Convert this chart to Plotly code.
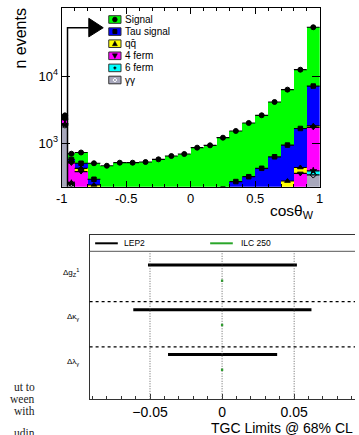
import numpy as np
import plotly.graph_objects as go

W, H = 359, 435

# ---------------- top chart: cos(theta_W) stacked histogram ----------------
bin_edges = [-1.0, -0.95, -0.9, -0.8, -0.7, -0.6, -0.5, -0.4, -0.3, -0.2, -0.1,
             0.0, 0.1, 0.2, 0.3, 0.4, 0.5, 0.6, 0.7, 0.8, 0.9, 1.0]
gamgam     = [1870, 250, 150, 80, 50, 40, 35, 30, 30, 28, 28, 28, 28, 28, 28, 30, 32, 35, 40, 60, 340]
six_ferm   = [20, 5, 5, 3, 2, 2, 2, 2, 2, 2, 2, 2, 3, 3, 3, 3, 3, 4, 5, 8, 50]
four_ferm  = [380, 255, 225, 100, 50, 40, 35, 35, 35, 35, 38, 40, 42, 45, 48, 52, 60, 75, 105, 289, 1336]
qqbar      = [60, 25, 45, 57, 40, 35, 30, 30, 30, 30, 32, 35, 38, 42, 48, 55, 65, 85, 125, 80, 94]
tau_signal = [120, 40, 80, 52, 50, 45, 45, 48, 52, 58, 65, 75, 85, 92, 143, 179, 265, 431, 665, 1223, 5260]
signal     = [150, 125, 225, 213, 272, 353, 368, 382, 429, 494, 528, 681, 737, 1001, 1254, 1685, 2183, 3480, 5330, 10740, 45920]

series_names = ["γγ", "6 ferm", "4 ferm", "qq\u0304", "Tau signal", "Signal"]
series_vals = [gamgam, six_ferm, four_ferm, qqbar, tau_signal, signal]
series_colors = ["#a8a8bc", "#00ffff", "#ff00ff", "#ffff00", "#0000ff", "#00ff00"]
series_symbols = ["diamond-open", "star", "triangle-down", "triangle-up", "square", "circle"]

x_ticks = [-1, -0.5, 0, 0.5, 1]
x_ticktext = ["-1", "-0.5", "0", "0.5", "1"]
y_ticks = [1e3, 1e4]
y_ticktext = ["10<sup>3</sup>", "10<sup>4</sup>"]

# ---------------- bottom chart: TGC limits ----------------
tgc_params = ["Δg<sub>Z</sub><sup>1</sup>", "Δκ<sub>γ</sub>", "Δλ<sub>γ</sub>"]
lep2_lo = [-0.0514, -0.0616, -0.0375]
lep2_hi = [0.0519, 0.0620, 0.0382]
ilc_lo = [-0.0008, -0.0008, -0.0008]
ilc_hi = [0.0008, 0.0008, 0.0008]
lep2_y = [3.0, 2.0, 1.0]
ilc_y = [2.65, 1.66, 0.66]
sep_y = [2.18, 1.17]
grid_x = [-0.05, 0.0, 0.05]
tgc_ticks = [-0.05, 0.0, 0.05]
tgc_ticktext = ["\u22120.05", "0", "0.05"]

FONT = "Liberation Sans, Arial, sans-serif"


def px(x):
    return x / W


def py(y):
    return 1 - y / H


edges = np.array(bin_edges)
centers = (edges[:-1] + edges[1:]) / 2
widths = edges[1:] - edges[:-1]

fig = go.Figure()

# stacked bars
for name, vals, col in zip(series_names, series_vals, series_colors):
    fig.add_trace(go.Bar(x=centers, y=vals, width=widths, name=name,
                         marker=dict(color=col, line=dict(width=0)),
                         xaxis="x", yaxis="y", showlegend=False, hoverinfo="skip"))

# markers at the cumulative tops with horizontal bin-width bars
cum = np.cumsum(np.array(series_vals, dtype=float), axis=0)
for i, (name, sym) in enumerate(zip(series_names, series_symbols)):
    fig.add_trace(go.Scatter(x=centers, y=cum[i], mode="markers",
                             marker=dict(symbol=sym, size=5 if sym != "square" else 4.5,
                                         color="black", line=dict(color="black", width=1)),
                             error_x=dict(type="data", array=list(widths / 2), color="black",
                                          thickness=1.2, width=0),
                             xaxis="x", yaxis="y", showlegend=False, hoverinfo="skip"))

# TGC lines
lx, ly = [], []
for lo, hi, yy in zip(lep2_lo, lep2_hi, lep2_y):
    lx += [lo, hi, None]
    ly += [yy, yy, None]
fig.add_trace(go.Scatter(x=lx, y=ly, mode="lines", line=dict(color="black", width=3),
                         xaxis="x2", yaxis="y2", showlegend=False, hoverinfo="skip"))
gx, gy = [], []
for lo, hi, yy in zip(ilc_lo, ilc_hi, ilc_y):
    gx += [lo, hi, None]
    gy += [yy, yy, None]
fig.add_trace(go.Scatter(x=gx, y=gy, mode="lines", line=dict(color="#2aa62a", width=2.5),
                         xaxis="x2", yaxis="y2", showlegend=False, hoverinfo="skip"))

shapes = []
annotations = []


def marker_shape(sym, cx, cy):
    """legend marker drawn as a small paper-coordinate shape around pixel (cx, cy)"""
    r = 2.3
    if sym == "circle":
        return dict(type="circle", xref="paper", yref="paper", x0=px(cx - r), x1=px(cx + r),
                    y0=py(cy + r), y1=py(cy - r), fillcolor="black", line=dict(color="black", width=1))
    if sym == "square":
        return dict(type="rect", xref="paper", yref="paper", x0=px(cx - 2), x1=px(cx + 2),
                    y0=py(cy + 2), y1=py(cy - 2), fillcolor="black", line=dict(color="black", width=1))
    if sym == "triangle-up":
        p = f"M {px(cx-2.6)},{py(cy+2)} L {px(cx+2.6)},{py(cy+2)} L {px(cx)},{py(cy-2.6)} Z"
    elif sym == "triangle-down":
        p = f"M {px(cx-2.6)},{py(cy-2)} L {px(cx+2.6)},{py(cy-2)} L {px(cx)},{py(cy+2.6)} Z"
    elif sym == "star":
        p = (f"M {px(cx-1.5)},{py(cy)} L {px(cx+1.5)},{py(cy)} M {px(cx)},{py(cy-1.5)} "
             f"L {px(cx)},{py(cy+1.5)}")
        return dict(type="path", xref="paper", yref="paper", path=p, line=dict(color="black", width=1.2))
    else:  # diamond-open
        p = f"M {px(cx-2)},{py(cy)} L {px(cx)},{py(cy-2)} L {px(cx+2)},{py(cy)} L {px(cx)},{py(cy+2)} Z"
        return dict(type="path", xref="paper", yref="paper", path=p, line=dict(color="white", width=1))
    return dict(type="path", xref="paper", yref="paper", path=p, fillcolor="black",
                line=dict(color="black", width=0.5))


# legend boxes, markers and texts (top chart)
leg_rows = [19.5 + 12.1 * k for k in range(6)]
leg_order = list(range(5, -1, -1))  # Signal first
for r, idx in zip(leg_rows, leg_order):
    shapes.append(dict(type="rect", xref="paper", yref="paper",
                       x0=px(105.7), x1=px(118.3), y0=py(r + 3.8), y1=py(r - 3.8),
                       fillcolor=series_colors[idx], line=dict(color="#333333", width=1)))
    shapes.append(marker_shape(series_symbols[idx], 112, r))
    annotations.append(dict(x=px(120.3), y=py(r), xref="paper", yref="paper",
                            text=series_names[idx], showarrow=False, xanchor="left",
                            yanchor="middle", font=dict(family=FONT, size=10, color="black")))

# minor ticks of the log axis (left and right), drawn as short shapes
minor_y = [k * 10 ** e for e in range(2, 5) for k in range(2, 10)]
for v in minor_y:
    lv = float(np.log10(v))
    if 2.355 < lv < 5.006:
        for x0, x1 in ((0, 4 / 265.4), (1 - 4 / 265.4, 1)):
            shapes.append(dict(type="line", xref="x domain", yref="y", x0=x0, x1=x1,
                               y0=lv, y1=lv, line=dict(color="black", width=1)))

# arrow (top chart)
arrow_x = -0.955
shapes.append(dict(type="path", xref="x", yref="y domain",
                   path=f"M {arrow_x},0 L {arrow_x},0.891 L -0.79,0.891",
                   line=dict(color="black", width=1.5)))
shapes.append(dict(type="path", xref="x", yref="y domain",
                   path="M -0.79,0.84 L -0.678,0.891 L -0.79,0.944 Z",
                   fillcolor="black", line=dict(color="black", width=1)))

# axis titles top chart
annotations.append(dict(x=px(14.5), y=py(6.5), xref="paper", yref="paper", text="n events",
                        textangle=-90, showarrow=False, xanchor="center", yanchor="top",
                        font=dict(family=FONT, size=16, color="black")))
annotations.append(dict(x=px(318.5), y=py(212), xref="paper", yref="paper",
                        text="cosθ<sub>W</sub>", showarrow=False, xanchor="right",
                        yanchor="middle", font=dict(family=FONT, size=15.5, color="black")))

# bottom chart decorations
for gxv in grid_x:
    shapes.append(dict(type="line", xref="x2", yref="y2", x0=gxv, x1=gxv, y0=0, y1=3.306,
                       line=dict(color="#666666", width=1, dash="1px,1.5px")))
for sy in sep_y:
    shapes.append(dict(type="line", xref="x2 domain", yref="y2", x0=0, x1=1, y0=sy, y1=sy,
                       line=dict(color="black", width=1.2, dash="3px,3px")))
shapes.append(dict(type="line", xref="x2 domain", yref="y2", x0=0, x1=1, y0=3.306, y1=3.306,
                   line=dict(color="#555555", width=1)))
# legend of bottom chart
shapes.append(dict(type="line", xref="paper", yref="paper", x0=px(91.7), x1=px(115),
                   y0=py(243.3), y1=py(243.3), line=dict(color="black", width=2)))
shapes.append(dict(type="line", xref="paper", yref="paper", x0=px(210), x1=px(233.3),
                   y0=py(243.3), y1=py(243.3), line=dict(color="#2aa62a", width=2)))
annotations.append(dict(x=px(119.5), y=py(243.3), xref="paper", yref="paper", text="LEP2",
                        showarrow=False, xanchor="left", yanchor="middle",
                        font=dict(family=FONT, size=8.5, color="black")))
annotations.append(dict(x=px(239.5), y=py(243.3), xref="paper", yref="paper", text="ILC 250",
                        showarrow=False, xanchor="left", yanchor="middle",
                        font=dict(family=FONT, size=8.5, color="black")))
for name, a, b in zip(tgc_params, lep2_y, ilc_y):
    annotations.append(dict(x=px(77), y=(a + b) / 2, xref="paper", yref="y2", text=name,
                            showarrow=False, xanchor="right", yanchor="middle",
                            font=dict(family=FONT, size=8, color="black")))
annotations.append(dict(x=px(359), y=py(428), xref="paper", yref="paper",
                        text="TGC Limits @ 68% CL", showarrow=False, xanchor="right",
                        yanchor="middle", font=dict(family=FONT, size=14, color="black")))

# clipped text of the page on the left
side_lines = ["ut to", "ween", "with", "udin"]
side_y = [386.5, 398.5, 410.5, 433]
for t, yy in zip(side_lines, side_y):
    annotations.append(dict(x=px(31.5), y=py(yy), xref="paper", yref="paper", text=t,
                            showarrow=False, xanchor="right", yanchor="middle",
                            font=dict(family="Liberation Serif, serif", size=11.5, color="#222222")))

fig.update_layout(
    width=W, height=H, margin=dict(l=0, r=0, t=0, b=0),
    paper_bgcolor="white", plot_bgcolor="white",
    barmode="stack", showlegend=False,
    font=dict(family=FONT, color="black"),
    xaxis=dict(domain=[px(57.3), px(322.7)], range=[-1, 1], anchor="y",
               tickmode="array", tickvals=x_ticks, ticktext=x_ticktext,
               ticks="inside", ticklen=6, tickwidth=1, tickcolor="black",
               minor=dict(dtick=0.1, tick0=0, ticks="inside", ticklen=3, tickcolor="black", showgrid=False),
               showline=True, linecolor="black", linewidth=1, mirror="allticks",
               showgrid=False, zeroline=False, tickfont=dict(size=13)),
    yaxis=dict(domain=[py(186.7), py(8.3)], type="log", range=[2.355, 5.006], anchor="x",
               tickmode="array", tickvals=y_ticks, ticktext=y_ticktext,
               ticks="inside", ticklen=8, tickwidth=1, tickcolor="black",
               showline=True, linecolor="black", linewidth=1, mirror="allticks",
               showgrid=False, zeroline=False, tickfont=dict(size=13)),
    xaxis2=dict(domain=[px(86), 1.0], range=[-0.0919, 0.0922], anchor="y2",
                tickmode="array", tickvals=tgc_ticks, ticktext=tgc_ticktext,
                ticks="inside", ticklen=5, tickwidth=1, tickcolor="#333333",
                minor=dict(dtick=0.01, tick0=0, ticks="inside", ticklen=3, tickcolor="#333333", showgrid=False),
                showline=True, linecolor="#333333", linewidth=1, mirror=True,
                showgrid=False, zeroline=False, tickfont=dict(size=14)),
    yaxis2=dict(domain=[py(399.3), py(235)], range=[0, 3.67], anchor="x2",
                showticklabels=False, ticks="", showline=True, linecolor="#333333",
                linewidth=1, showgrid=False, zeroline=False),
    shapes=shapes, annotations=annotations,
)

fig.write_html("out.html")
